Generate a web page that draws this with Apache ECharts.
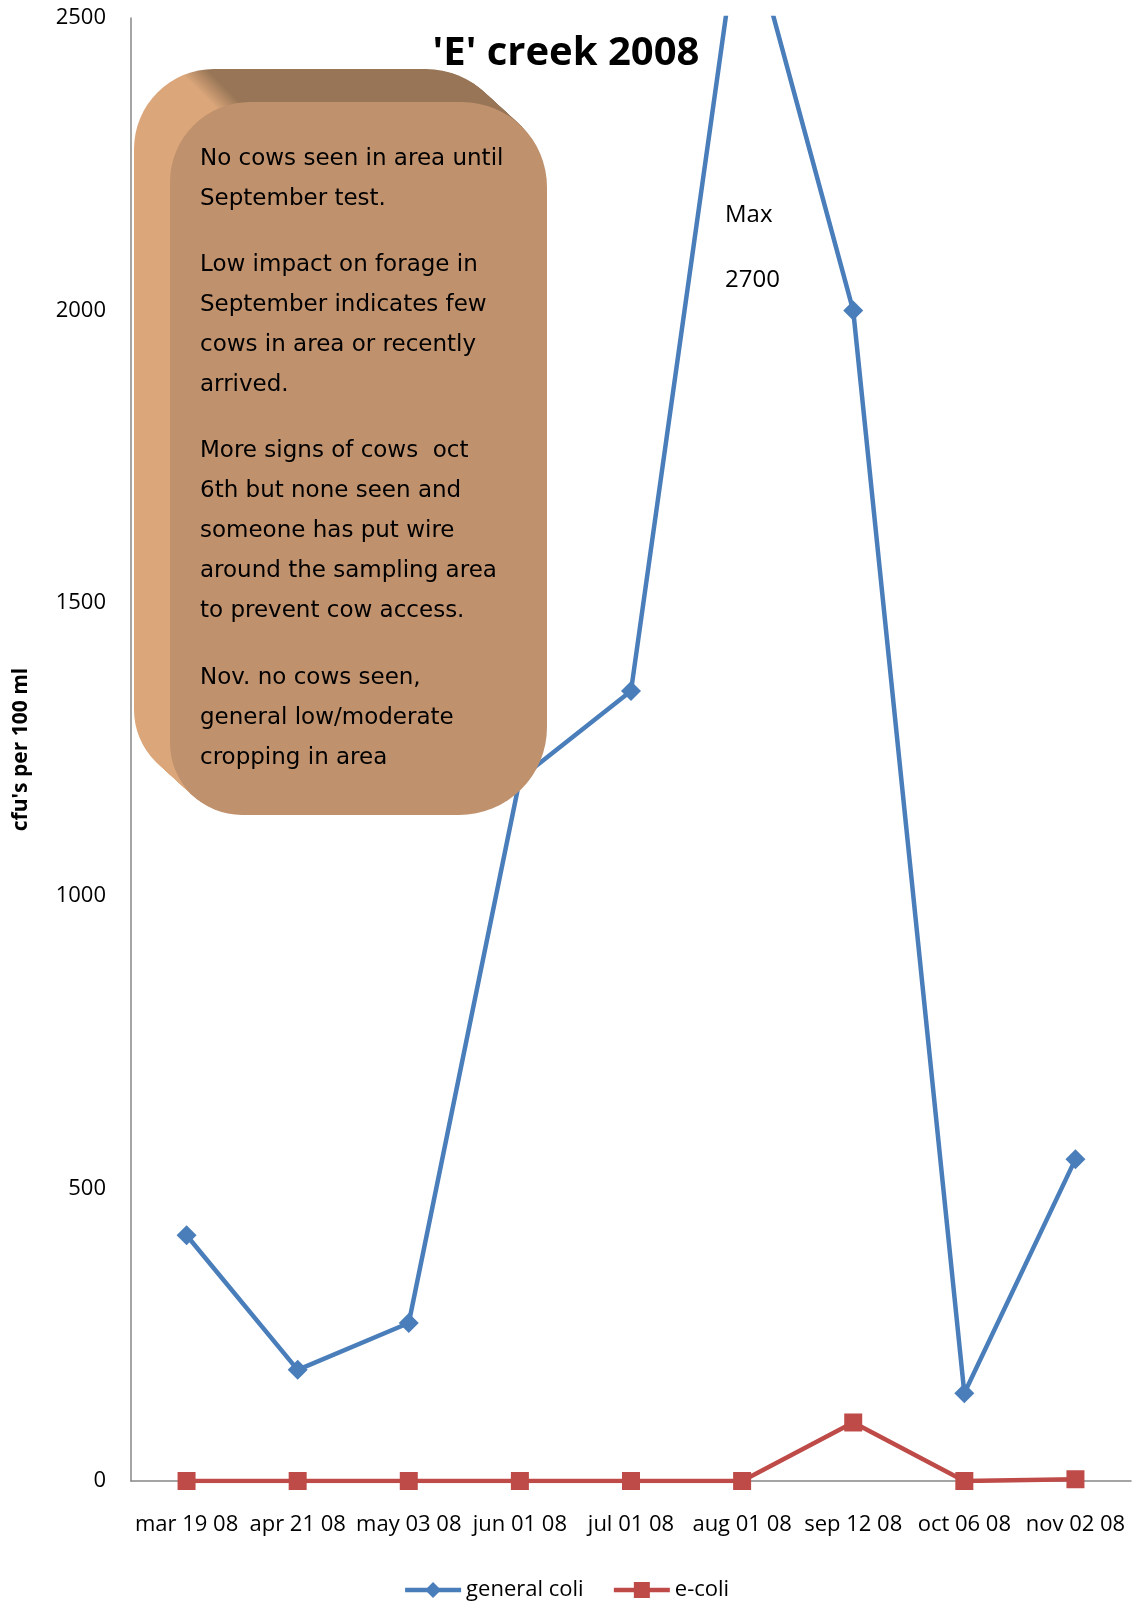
<!DOCTYPE html>
<html>
<head>
<meta charset="utf-8">
<script src="https://cdn.jsdelivr.net/npm/echarts@6/dist/echarts.min.js"></script>
<style>
html, body { margin: 0; padding: 0; background: #fff; }
#echart { width: 1132px; height: 1605px; }
</style>
</head>
<body>
<div id="echart"></div>
<script>
var chartDom = document.getElementById('echart');
var myChart = echarts.init(chartDom);

// sampling dates
var categories = ['mar 19 08', 'apr 21 08', 'may 03 08', 'jun 01 08', 'jul 01 08',
                  'aug 01 08', 'sep 12 08', 'oct 06 08', 'nov 02 08'];
// cfu's per 100 ml
var generalColi = [420, 190, 270, 1200, 1350, 2700, 2000, 150, 550];
var eColi = [0, 0, 0, 0, 0, 0, 100, 0, 3];

var yMin = 0, yMax = 2500, yStep = 500;

var notes = [
    'No cows seen in area until\nSeptember test.',
    'Low impact on forage in\nSeptember indicates few\ncows in area or recently\narrived.',
    'More signs of cows  oct\n6th but none seen and\nsomeone has put wire\naround the sampling area\nto prevent cow access.',
    'Nov. no cows seen,\ngeneral low/moderate\ncropping in area'
];
var noteTops = [139, 245, 431, 658];
var maxNote = ['Max', '2700'];

var font = 'Open Sans';

// 3D looking note box: extrusion made of stacked rounded rects, then the face
var box = { x: 170, y: 102, w: 377, h: 713, r: [80, 85, 88, 72] };
var depthX = -36, depthY = -33, steps = 36;
var graphics = [];
var sideFill = new echarts.graphic.LinearGradient(196, 88, 211, 73, [
    { offset: 0, color: '#dba67a' },
    { offset: 1, color: '#977556' }
], true);
for (var i = steps; i >= 1; i--) {
    var t = i / steps;
    graphics.push({
        type: 'rect', silent: true, z: 100,
        shape: { x: box.x + depthX * t, y: box.y + depthY * t, width: box.w, height: box.h, r: box.r },
        style: { fill: sideFill }
    });
}
graphics.push({
    type: 'rect', silent: true, z: 101,
    shape: { x: box.x, y: box.y, width: box.w, height: box.h, r: box.r },
    style: { fill: '#c0916d' }
});
notes.forEach(function (txt, k) {
    graphics.push({
        type: 'text', silent: true, z: 102,
        x: 200, y: noteTops[k],
        style: { text: txt, fontFamily: 'DejaVu Sans', fontSize: 23, lineHeight: 40, fill: '#000', verticalAlign: 'top' }
    });
});
graphics.push({
    type: 'text', silent: true, z: 102, x: 725, y: 215,
    style: { text: maxNote[0], fontFamily: font, fontSize: 24, fill: '#000', verticalAlign: 'middle' }
});
graphics.push({
    type: 'text', silent: true, z: 102, x: 725, y: 280,
    style: { text: maxNote[1], fontFamily: font, fontSize: 24, fill: '#000', verticalAlign: 'middle' }
});

var option = {
    animation: false,
    backgroundColor: '#fff',
    title: {
        text: "'E' creek 2008",
        left: 'center',
        top: 29,
        textStyle: { fontFamily: font, fontSize: 40, fontWeight: 'bold', color: '#000' }
    },
    legend: {
        bottom: -1,
        left: 'center',
        itemWidth: 56,
        itemHeight: 20,
        itemGap: 28,
        lineStyle: { width: 'inherit' },
        textStyle: { fontFamily: font, fontSize: 22, color: '#000' },
        data: ['general coli', 'e-coli']
    },
    grid: { left: 131, right: 1, top: 18, bottom: 124, outerBoundsMode: 'none', containLabel: false },
    xAxis: {
        type: 'category',
        data: categories,
        axisLine: { lineStyle: { color: '#878787', width: 1.5 } },
        axisTick: { show: false },
        axisLabel: { fontFamily: font, fontSize: 22, color: '#000', margin: 33, interval: 0 }
    },
    yAxis: {
        type: 'value',
        min: yMin, max: yMax, interval: yStep,
        name: "cfu's per 100 ml",
        nameLocation: 'middle',
        nameGap: 99,
        nameTextStyle: { fontFamily: font, fontSize: 21, fontWeight: 'bold', color: '#000' },
        axisLine: { show: true, lineStyle: { color: '#878787', width: 1.5 } },
        axisTick: { show: false },
        splitLine: { show: false },
        axisLabel: {
            fontFamily: font, fontSize: 22, color: '#000', margin: 25,
            formatter: function (v) { return String(v); }
        }
    },
    graphic: graphics,
    series: [{
        name: 'general coli',
        type: 'line',
        data: generalColi,
        clip: true,
        symbol: 'diamond',
        symbolSize: 20,
        itemStyle: { color: '#4a7ebb' },
        lineStyle: { color: '#4a7ebb', width: 4.5 }
    }, {
        name: 'e-coli',
        type: 'line',
        data: eColi,
        clip: true,
        symbol: 'rect',
        symbolSize: 18,
        itemStyle: { color: '#be4b48' },
        lineStyle: { color: '#be4b48', width: 4.5 }
    }]
};

myChart.setOption(option);

window.addEventListener('resize', function () {
    myChart.resize();
});
</script>
</body>
</html>
